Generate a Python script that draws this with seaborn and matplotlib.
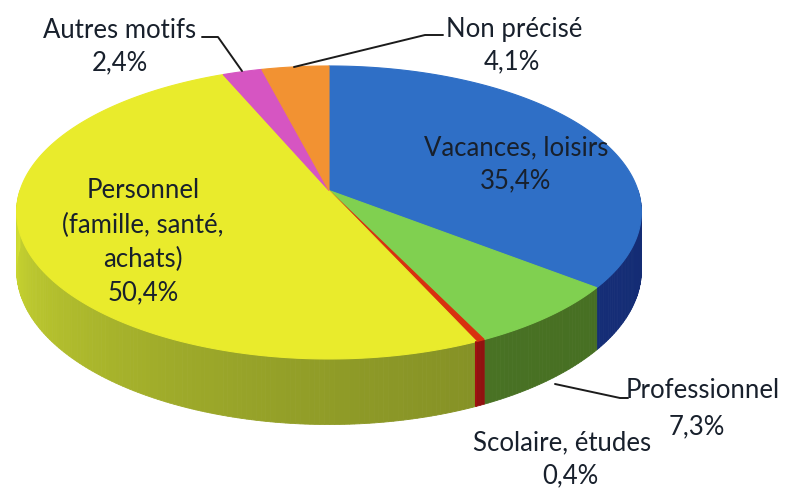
import numpy as np
import matplotlib
matplotlib.use("Agg")
import matplotlib.pyplot as plt
from matplotlib.patches import Polygon
from matplotlib.colors import to_rgb
import seaborn as sns

# Trip purposes (share of trips, %), clockwise from 12 o'clock
categories = ["Vacances, loisirs", "Professionnel", "Scolaire, études",
              "Personnel\n(famille, santé,\nachats)", "Autres motifs", "Non précisé"]
shares = [35.4, 7.3, 0.4, 50.4, 2.4, 4.1]
share_labels = ["35,4%", "7,3%", "0,4%", "50,4%", "2,4%", "4,1%"]

top_colors = ["#2f6fc6", "#80d050", "#d8300f", "#e9eb2c", "#d655c2", "#f29232"]
side_light = ["#2c52b4", "#5c8e32", "#b02010", "#d2de32", "#b04aa0", "#d07a28"]
side_dark = ["#142c74", "#466e22", "#8c1010", "#7a8624", "#8a3a80", "#a86020"]

sns.set_theme(style="white")
plt.rcParams["font.family"] = ["Lato", "DejaVu Sans"]

W, H = 787, 489
fig = plt.figure(figsize=(W / 100, H / 100), dpi=100)
ax = fig.add_axes([0, 0, 1, 1])
ax.set_xlim(0, W)
ax.set_ylim(H, 0)
ax.axis("off")

# Projection of a tilted disc with mild perspective (front appears larger)
CX, CY, A, B, DEPTH, P = 329, 191.5, 309, 146.5, 57, 0.15


def proj(t_deg, h=0.0):
    t = np.radians(t_deg)
    u, v = np.sin(t), -np.cos(t)
    s = 1 + P * v
    return CX + A * u * s, CY + B * v * s + DEPTH * h * s


def mix(c_light, c_dark, w):
    a, b = np.array(to_rgb(c_light)), np.array(to_rgb(c_dark))
    return tuple(np.clip(b + (a - b) * w, 0, 1))


bounds = np.concatenate([[0], np.cumsum(shares)]) / sum(shares) * 360

# Side walls (visible front half only)
for i in range(len(shares)):
    t0, t1 = max(bounds[i], 90), min(bounds[i + 1], 270)
    if t1 <= t0:
        continue
    n = max(2, int(np.ceil((t1 - t0) / 0.8)) + 1)
    ts = np.linspace(t0, t1, n)
    for a0, a1 in zip(ts[:-1], ts[1:]):
        pts = [proj(a0, 0), proj(a1, 0), proj(a1, 1), proj(a0, 1)]
        w = ((0.5 * (a0 + a1) - 90) / 180) ** 2
        c = mix(side_light[i], side_dark[i], w)
        ax.add_patch(Polygon(pts, closed=True, facecolor=c, edgecolor=c, lw=0.6))

# Top faces
for i in range(len(shares)):
    ts = np.linspace(bounds[i], bounds[i + 1], max(3, int((bounds[i + 1] - bounds[i]) * 2)))
    pts = [(CX, CY)] + [proj(t, 0) for t in ts]
    ax.add_patch(Polygon(pts, closed=True, facecolor=top_colors[i],
                         edgecolor=top_colors[i], lw=0.8, zorder=2))

# Dark red seam of the thin slice down the wall
x0, y0 = proj(bounds[3], 0)
x1, y1 = proj(bounds[3], 1)
ax.plot([x0, x1], [y0, y1], color="#a01010", lw=1.5, zorder=3)

txt = dict(color="#18202c", fontsize=18.5, ha="center", va="center", zorder=5)
lh = 34

# Labels on slices
ax.text(516, 148, categories[0], **txt)
ax.text(516, 181, share_labels[0], **txt)
for k, line in enumerate(categories[3].split("\n")):
    ax.text(143, 191 + k * lh, line, **txt)
ax.text(143, 191 + 3 * lh, share_labels[3], **txt)

# Outside labels with leader lines
ax.text(120, 30, categories[4], **txt)
ax.text(120, 63, share_labels[4], **txt)
ax.plot([202, 218, 242], [38, 38, 72], color="#1b1b1b", lw=1.4, zorder=4)

ax.text(514, 29, categories[5], **txt)
ax.text(512, 62, share_labels[5], **txt)
ax.plot([294, 425, 443], [68, 36, 36], color="#1b1b1b", lw=1.4, zorder=4)

ax.text(703, 391, categories[1], **txt)
ax.text(697, 427, share_labels[1], **txt)
ax.plot([555, 620, 628], [385, 399, 399], color="#1b1b1b", lw=1.4, zorder=4)

ax.text(562, 443, categories[2], **txt)
ax.text(570, 476, share_labels[2], **txt)

fig.savefig("out.png", dpi=100, facecolor="white")
